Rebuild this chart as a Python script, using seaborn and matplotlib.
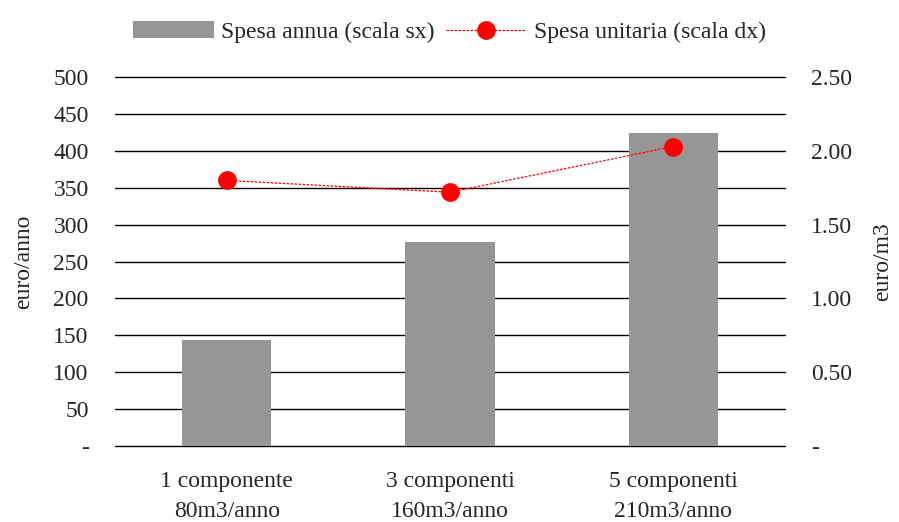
import matplotlib
matplotlib.use("Agg")
import matplotlib.pyplot as plt
import seaborn as sns
import pandas as pd
from matplotlib.ticker import FixedLocator, FuncFormatter
from matplotlib.patches import Patch
from matplotlib.lines import Line2D

categories = ["1 componente\n80m3/anno", "3 componenti\n160m3/anno", "5 componenti\n210m3/anno"]
spesa_annua = [144, 276, 425]
spesa_unitaria = [1.80, 1.72, 2.03]
left_ticks = [0, 50, 100, 150, 200, 250, 300, 350, 400, 450, 500]
right_ticks = [0, 0.5, 1.0, 1.5, 2.0, 2.5]

sns.set_theme(style="white")
plt.rcParams['font.family'] = ['Liberation Serif', 'DejaVu Serif']

FS = 17
fig = plt.figure(figsize=(8.99, 5.22), dpi=100)
ax = fig.add_axes([0.128, 0.146, 0.745, 0.706])

df = pd.DataFrame({"cat": categories, "val": spesa_annua})
sns.barplot(data=df, x="cat", y="val", color="#969696", width=0.4, saturation=1,
            linewidth=0, edgecolor="none", ax=ax, zorder=2)
ax.set_ylim(0, 500)
ax.yaxis.set_major_locator(FixedLocator(left_ticks))
ax.yaxis.set_major_formatter(FuncFormatter(lambda v, p: "-" if v == 0 else f"{int(v)}"))
ax.grid(axis="y", color="black", linewidth=1.0, zorder=0)
for gl in ax.get_ygridlines():
    gl.set_clip_on(False)
ax.set_axisbelow(True)
for s in ax.spines.values():
    s.set_visible(False)
ax.tick_params(axis="x", length=0, labelsize=FS, pad=18)
ax.tick_params(axis="y", length=0, labelsize=FS, pad=19)
for lbl in ax.get_xticklabels():
    lbl.set_linespacing(1.6)
ax.set_xlabel("")
ax.set_ylabel("euro/anno", fontsize=FS, labelpad=14)
ax.set_xlim(-0.5, 2.5)

ax2 = ax.twinx()
ax2.plot(range(len(categories)), spesa_unitaria, color="red", linestyle=(0, (2, 1.2)), linewidth=0.9,
         marker="o", markersize=12.5, zorder=5)
ax2.set_ylim(0, 2.5)
ax2.yaxis.set_major_locator(FixedLocator(right_ticks))
ax2.yaxis.set_major_formatter(FuncFormatter(lambda v, p: "-" if v == 0 else f"{v:.2f}"))
for s in ax2.spines.values():
    s.set_visible(False)
ax2.tick_params(axis="y", length=0, labelsize=FS, pad=19)
ax2.set_ylabel("euro/m3", fontsize=FS, labelpad=14)
ax2.grid(False)

handles = [Patch(facecolor="#969696", edgecolor="none"),
           Line2D([0], [0], color="red", linestyle=(0, (2, 1.2)), linewidth=0.9, marker="o", markersize=12.5)]
fig.legend(handles, ["Spesa annua (scala sx)", "Spesa unitaria (scala dx)"], loc="upper center",
           bbox_to_anchor=(0.5, 1.0), ncol=2, frameon=False, fontsize=FS, handlelength=3.4,
           handleheight=0.7, columnspacing=0.5, handletextpad=0.3)

fig.savefig("out.png", dpi=100)
